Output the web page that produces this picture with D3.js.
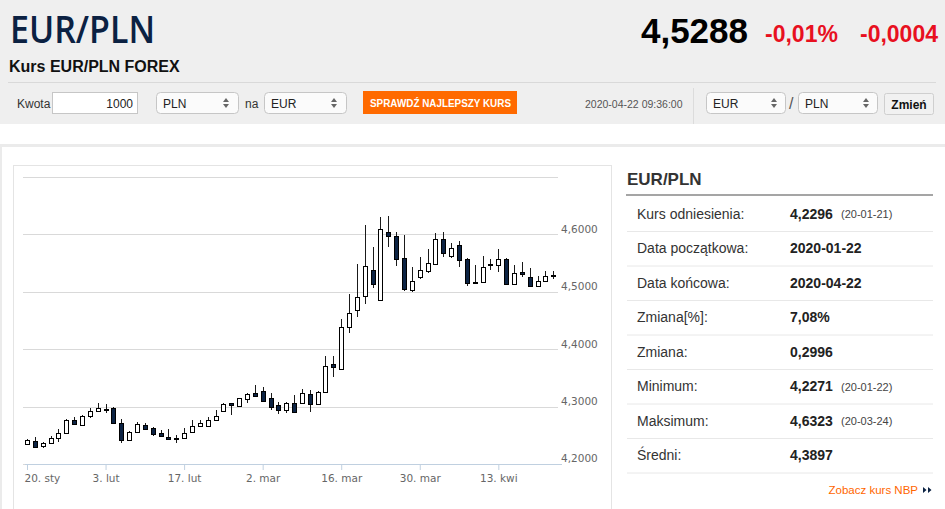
<!DOCTYPE html>
<html>
<head>
<meta charset="utf-8">
<script src="https://cdn.jsdelivr.net/npm/d3@7"></script>
<style>
  html, body { margin: 0; padding: 0; background: #fff; overflow: hidden; }
  svg { display: block; }
</style>
</head>
<body>
<svg id="page"></svg>
<script>
// Candle data, one entry per trading day (EUR/PLN FOREX)
const tradeDates = [
  '2020-01-20','2020-01-21','2020-01-22','2020-01-23','2020-01-24','2020-01-27','2020-01-28','2020-01-29','2020-01-30','2020-01-31',
  '2020-02-03','2020-02-04','2020-02-05','2020-02-06','2020-02-07','2020-02-10','2020-02-11','2020-02-12','2020-02-13','2020-02-14',
  '2020-02-17','2020-02-18','2020-02-19','2020-02-20','2020-02-21','2020-02-24','2020-02-25','2020-02-26','2020-02-27','2020-02-28',
  '2020-03-02','2020-03-03','2020-03-04','2020-03-05','2020-03-06','2020-03-09','2020-03-10','2020-03-11','2020-03-12','2020-03-13',
  '2020-03-16','2020-03-17','2020-03-18','2020-03-19','2020-03-20','2020-03-23','2020-03-24','2020-03-25','2020-03-26','2020-03-27',
  '2020-03-30','2020-03-31','2020-04-01','2020-04-02','2020-04-03','2020-04-06','2020-04-07','2020-04-08','2020-04-09','2020-04-10',
  '2020-04-13','2020-04-14','2020-04-15','2020-04-16','2020-04-17','2020-04-20','2020-04-21','2020-04-22'
];
const openValues = [
  4.2350,4.2400,4.2310,4.2370,4.2450,4.2530,4.2765,4.2680,4.2835,4.2925,
  4.2952,4.2980,4.2718,4.2416,4.2561,4.2678,4.2620,4.2533,4.2474,4.2446,
  4.2446,4.2561,4.2660,4.2660,4.2765,4.2921,4.3056,4.3009,4.3125,4.3230,
  4.3275,4.3143,4.3026,4.2939,4.3056,4.3066,4.3218,4.3038,4.3247,4.3740,
  4.3648,4.4380,4.4681,4.4930,4.5378,4.4855,4.6034,4.5965,4.5582,4.5030,
  4.5261,4.5366,4.5483,4.5913,4.5622,4.5814,4.5564,4.5170,4.5174,4.5480,
  4.5465,4.5564,4.5134,4.5338,4.5261,4.5105,4.5192,4.5292
];
const highValues = [
  4.2440,4.2470,4.2390,4.2490,4.2600,4.2790,4.2820,4.2860,4.2970,4.3056,
  4.3045,4.2986,4.2777,4.2578,4.2735,4.2718,4.2648,4.2591,4.2603,4.2503,
  4.2620,4.2765,4.2765,4.2822,4.2939,4.3056,4.3066,4.3153,4.3240,4.3374,
  4.3334,4.3230,4.3073,4.3073,4.3200,4.3305,4.3287,4.3275,4.3880,4.3880,
  4.4519,4.4955,4.5483,4.6162,4.5784,4.6300,4.6323,4.6045,4.5988,4.5425,
  4.5610,4.5739,4.6017,4.6045,4.5854,4.5889,4.5582,4.5465,4.5622,4.5564,
  4.5739,4.5582,4.5465,4.5523,4.5408,4.5274,4.5366,4.5366
];
const lowValues = [
  4.2330,4.2285,4.2271,4.2360,4.2390,4.2520,4.2678,4.2666,4.2794,4.2909,
  4.2892,4.2707,4.2369,4.2404,4.2551,4.2591,4.2491,4.2486,4.2434,4.2359,
  4.2428,4.2544,4.2648,4.2648,4.2753,4.2909,4.2852,4.2997,4.3056,4.3171,
  4.3073,4.2939,4.2864,4.2881,4.2892,4.3056,4.2909,4.3026,4.3230,4.3509,
  4.3636,4.4286,4.4554,4.4786,4.5059,4.4855,4.5784,4.5453,4.5017,4.4995,
  4.5216,4.5321,4.5483,4.5599,4.5582,4.5436,4.5105,4.5158,4.5164,4.5378,
  4.5348,4.5117,4.5117,4.5261,4.5087,4.5087,4.5174,4.5216
];
const closeValues = [
  4.2410,4.2300,4.2360,4.2450,4.2530,4.2760,4.2695,4.2835,4.2925,4.2970,
  4.2948,4.2718,4.2416,4.2561,4.2690,4.2603,4.2521,4.2491,4.2439,4.2440,
  4.2544,4.2660,4.2706,4.2765,4.2840,4.3043,4.3021,4.3143,4.3213,4.3183,
  4.3101,4.2997,4.2939,4.3056,4.2899,4.3230,4.3038,4.3258,4.3706,4.3683,
  4.4390,4.4624,4.4913,4.5453,4.5134,4.6087,4.5965,4.5570,4.5042,4.5192,
  4.5378,4.5495,4.5913,4.5669,4.5756,4.5552,4.5146,4.5164,4.5436,4.5486,
  4.5564,4.5134,4.5321,4.5308,4.5105,4.5192,4.5274,4.5288
];

// Axes
const gridValues = [4.2, 4.3, 4.4, 4.5, 4.6, 4.7];
const yLabelValues = [4.2, 4.3, 4.4, 4.5, 4.6];
const xTickDates = ['2020-01-20','2020-02-03','2020-02-17','2020-03-02','2020-03-16','2020-03-30','2020-04-13'];
const xTickLabels = ['20. sty','3. lut','17. lut','2. mar','16. mar','30. mar','13. kwi'];

// Summary table on the right
const statLabels = ['Kurs odniesienia:','Data początkowa:','Data końcowa:','Zmiana[%]:','Zmiana:','Minimum:','Maksimum:','Średni:'];
const statValues = ['4,2296','2020-01-22','2020-04-22','7,08%','0,2996','4,2271','4,6323','4,3897'];
const statDates = ['(20-01-21)','','','','','(20-01-22)','(20-03-24)',''];

const SANS = "'Liberation Sans', Arial, sans-serif";
const AXIS_FONT = "'DejaVu Sans', Verdana, sans-serif";
const NAVY = '#0c2344';

const svg = d3.select('#page').attr('width', 945).attr('height', 509);

function drawHeader() {
    svg.append('rect').attr('x', 0).attr('y', 0).attr('width', 945).attr('height', 124).attr('fill', '#efefef');

    svg.append('text').attr('x', 10).attr('y', 43)
        .attr('textLength', 145).attr('lengthAdjust', 'spacingAndGlyphs')
        .style('font-family', "'Open Sans', sans-serif").style('font-weight', 600).style('font-size', '38px')
        .attr('fill', '#0b2142').text('EUR/PLN');
    svg.append('text').attr('x', 9).attr('y', 72)
        .style('font-family', SANS).style('font-weight', 'bold').style('font-size', '16px')
        .attr('fill', '#111').text('Kurs EUR/PLN FOREX');

    // quote
    svg.append('text').attr('x', 748).attr('y', 43).attr('text-anchor', 'end')
        .style('font-family', SANS).style('font-weight', 'bold').style('font-size', '35px')
        .attr('fill', '#000').text('4,5288');
    svg.append('text').attr('x', 765).attr('y', 42)
        .style('font-family', SANS).style('font-weight', 'bold').style('font-size', '23px')
        .attr('fill', '#e8101f').text('-0,01%');
    svg.append('text').attr('x', 938).attr('y', 42).attr('text-anchor', 'end')
        .style('font-family', SANS).style('font-weight', 'bold').style('font-size', '23px')
        .attr('fill', '#e8101f').text('-0,0004');

    svg.append('line').attr('x1', 8).attr('x2', 936).attr('y1', 82.5).attr('y2', 82.5)
        .attr('stroke', '#d9d9d9');
}

function selectBox(x, w, label, arrowX) {
    svg.append('rect').attr('x', x + 0.5).attr('y', 92.5).attr('width', w).attr('height', 21)
        .attr('rx', 4).attr('fill', '#fbfbfb').attr('stroke', '#c6c6c6');
    svg.append('text').attr('x', x + 7).attr('y', 107.5)
        .style('font-family', SANS).style('font-size', '12px').attr('fill', '#222').text(label);
    svg.append('path')
        .attr('d', `M${arrowX - 3},102 L${arrowX + 3},102 L${arrowX},98 Z M${arrowX - 3},104 L${arrowX + 3},104 L${arrowX},108 Z`)
        .attr('fill', '#666');
}

function drawForm() {
    svg.append('text').attr('x', 17).attr('y', 108)
        .style('font-family', SANS).style('font-size', '12px').attr('fill', '#333').text('Kwota');
    svg.append('rect').attr('x', 52.5).attr('y', 92.5).attr('width', 85).attr('height', 21)
        .attr('fill', '#fff').attr('stroke', '#c6c6c6');
    svg.append('text').attr('x', 133).attr('y', 108).attr('text-anchor', 'end')
        .style('font-family', SANS).style('font-size', '12px').attr('fill', '#222').text('1000');

    selectBox(156, 82, 'PLN', 226);
    svg.append('text').attr('x', 245).attr('y', 108)
        .style('font-family', SANS).style('font-size', '12px').attr('fill', '#333').text('na');
    selectBox(264, 82, 'EUR', 334);

    svg.append('rect').attr('x', 363).attr('y', 91).attr('width', 154).attr('height', 23).attr('fill', '#ff6a00');
    svg.append('text').attr('x', 370).attr('y', 106.5)
        .attr('textLength', 141).attr('lengthAdjust', 'spacingAndGlyphs')
        .style('font-family', SANS).style('font-weight', 'bold').style('font-size', '11px')
        .attr('fill', '#fff').text('SPRAWDŹ NAJLEPSZY KURS');

    svg.append('text').attr('x', 585).attr('y', 108)
        .style('font-family', SANS).style('font-size', '10.5px').attr('fill', '#555').text('2020-04-22 09:36:00');
    svg.append('line').attr('x1', 693.5).attr('x2', 693.5).attr('y1', 88).attr('y2', 124).attr('stroke', '#dcdcdc');

    selectBox(706, 79, 'EUR', 774);
    svg.append('text').attr('x', 789).attr('y', 109)
        .style('font-family', SANS).style('font-size', '16px').attr('fill', '#555').text('/');
    selectBox(798, 79, 'PLN', 866);

    svg.append('rect').attr('x', 884.5).attr('y', 93.5).attr('width', 49).attr('height', 21)
        .attr('rx', 2).attr('fill', '#f1f1f1').attr('stroke', '#cfcfcf');
    svg.append('text').attr('x', 909).attr('y', 108.5).attr('text-anchor', 'middle')
        .style('font-family', SANS).style('font-weight', 'bold').style('font-size', '12px')
        .attr('fill', '#111').text('Zmień');
}

function drawFrames() {
    // white card below the grey header
    svg.append('rect').attr('x', 0).attr('y', 144).attr('width', 945).attr('height', 3).attr('fill', '#ebebeb');
    svg.append('rect').attr('x', 0).attr('y', 144).attr('width', 2).attr('height', 365).attr('fill', '#ebebeb');
    // chart box
    svg.append('rect').attr('x', 13.5).attr('y', 165.5).attr('width', 598).attr('height', 360)
        .attr('fill', '#fff').attr('stroke', '#e4e4e4');
}

function drawChart() {
    const candles = tradeDates.map((d, i) => ({
        date: d, o: openValues[i], h: highValues[i], l: lowValues[i], c: closeValues[i]
    }));

    const x = d3.scalePoint().domain(tradeDates).range([27, 553.3]);
    const y = d3.scaleLinear().domain([4.2, 4.7]).range([463.9, 176.9]);

    const g = svg.append('g').attr('class', 'chart');

    // Grid
    g.append('g').selectAll('line').data(gridValues).join('line')
        .attr('x1', 23).attr('x2', 558)
        .attr('y1', d => Math.round(y(d)) + 0.5).attr('y2', d => Math.round(y(d)) + 0.5)
        .attr('stroke', '#d9d9d9');

    // Y labels on the right
    const yAxis = g.append('g').attr('transform', 'translate(561,0)')
        .call(d3.axisRight(y).tickValues(yLabelValues).tickSize(0).tickPadding(0)
            .tickFormat(d => d.toFixed(4).replace('.', ',')));
    yAxis.select('.domain').remove();
    yAxis.selectAll('text').attr('dy', null).attr('y', -2)
        .style('font-family', AXIS_FONT).style('font-size', '10.5px').attr('fill', '#666');

    // X axis
    g.append('line').attr('x1', 25).attr('x2', 562).attr('y1', 464.5).attr('y2', 464.5).attr('stroke', '#c0d0e0');
    const xAxis = g.append('g').attr('transform', 'translate(0,464)')
        .call(d3.axisBottom(x).tickValues(xTickDates).tickSize(6).tickSizeOuter(0).tickPadding(5)
            .tickFormat((d, i) => xTickLabels[i]));
    xAxis.select('.domain').remove();
    xAxis.selectAll('line').attr('stroke', '#c0d0e0');
    xAxis.selectAll('text')
        .style('font-family', AXIS_FONT).style('font-size', '10.5px').attr('fill', '#666');
    xAxis.select('.tick text').attr('text-anchor', 'start').attr('x', -3);

    // Candles
    const cg = g.append('g').attr('class', 'candles');
    const items = cg.selectAll('g').data(candles).join('g');
    items.append('line')
        .attr('x1', d => Math.round(x(d.date)) + 0.5).attr('x2', d => Math.round(x(d.date)) + 0.5)
        .attr('y1', d => Math.round(y(d.h))).attr('y2', d => Math.round(y(d.l)))
        .attr('stroke', '#1a1a1a');
    items.append('rect')
        .attr('x', d => Math.round(x(d.date)) - 1.5)
        .attr('width', 4)
        .attr('y', d => Math.round(y(Math.max(d.o, d.c))) + 0.5)
        .attr('height', d => Math.max(1, Math.round(y(Math.min(d.o, d.c))) - Math.round(y(Math.max(d.o, d.c)))))
        .attr('fill', d => d.c >= d.o ? '#fff' : NAVY)
        .attr('stroke', '#000');
}

function drawStats() {
    svg.append('text').attr('x', 627).attr('y', 185)
        .style('font-family', SANS).style('font-weight', 'bold').style('font-size', '17px')
        .attr('fill', '#333').text('EUR/PLN');
    svg.append('line').attr('x1', 626).attr('x2', 933).attr('y1', 195).attr('y2', 195)
        .attr('stroke', '#a5a5a5').attr('stroke-width', 2);

    const rowY = d3.scalePoint().domain(d3.range(statLabels.length)).range([218.5, 460]);
    const rows = svg.append('g').selectAll('g').data(statLabels).join('g')
        .attr('transform', (d, i) => `translate(0,${rowY(i)})`);

    rows.append('line').attr('x1', 627).attr('x2', 933).attr('y1', 13).attr('y2', 13).attr('stroke', '#e8e8e8');
    rows.append('text').attr('x', 637)
        .style('font-family', SANS).style('font-size', '14px').attr('fill', '#333').text(d => d);
    rows.append('text').attr('x', 790)
        .style('font-family', SANS).style('font-weight', 'bold').style('font-size', '14px')
        .attr('fill', '#222').text((d, i) => statValues[i]);
    rows.append('text').attr('x', 841).attr('y', -0.5)
        .style('font-family', SANS).style('font-size', '11px').attr('fill', '#444').text((d, i) => statDates[i]);

    svg.append('text').attr('x', 918).attr('y', 494).attr('text-anchor', 'end')
        .style('font-family', SANS).style('font-size', '11.5px').attr('fill', '#ff6600').text('Zobacz kurs NBP');
    svg.append('path').attr('d', 'M923,487 L926.5,490 L923,493 Z M928,487 L931.5,490 L928,493 Z').attr('fill', NAVY);
}

drawHeader();
drawForm();
drawFrames();
drawChart();
drawStats();
</script>
</body>
</html>
